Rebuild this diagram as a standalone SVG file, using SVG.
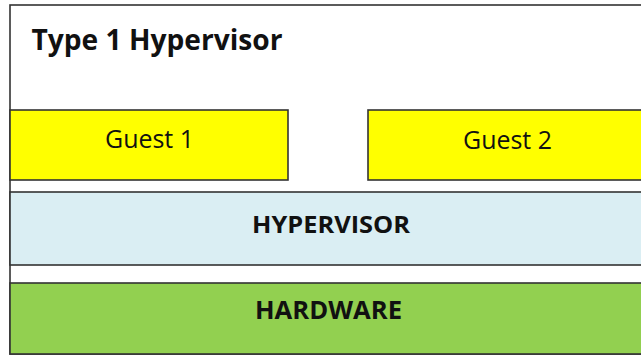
<svg xmlns="http://www.w3.org/2000/svg" width="641" height="356" viewBox="0 0 641 356">
<style>
.box{stroke:#333;stroke-width:1.6}
.frame{fill:#fff;stroke:#333;stroke-width:1.6}
.guest{fill:#ffff00}
.hyp{fill:#daeef3}
.hw{fill:#92d050}
.t{font-family:"Open Sans","Liberation Sans",sans-serif;fill:#111;text-anchor:middle}
.b{font-weight:bold}
</style>
<rect width="641" height="356" fill="#fff"/>
<g id="frame">
<rect class="frame" x="10" y="5" width="640" height="349"/>
<text class="t b" x="31.5" y="50" font-size="28.5" text-anchor="start" style="text-anchor:start" textLength="251" lengthAdjust="spacingAndGlyphs">Type 1 Hypervisor</text>
</g>
<g id="guest1">
<rect class="box guest" x="10" y="110" width="278" height="70"/>
<text class="t" x="149.5" y="148" font-size="25" textLength="89" lengthAdjust="spacingAndGlyphs">Guest 1</text>
</g>
<g id="guest2">
<rect class="box guest" x="368" y="110" width="290" height="70"/>
<text class="t" x="507.5" y="149" font-size="25" textLength="89" lengthAdjust="spacingAndGlyphs">Guest 2</text>
</g>
<g id="hypervisor">
<rect class="box hyp" x="10" y="192" width="650" height="73"/>
<text class="t b" x="331" y="232.5" font-size="24" textLength="158" lengthAdjust="spacingAndGlyphs">HYPERVISOR</text>
</g>
<g id="hardware">
<rect class="box hw" x="10" y="283" width="650" height="71"/>
<text class="t b" x="328.5" y="319" font-size="24.5" textLength="147" lengthAdjust="spacingAndGlyphs">HARDWARE</text>
</g>
<g id="connectors"></g>
</svg>
